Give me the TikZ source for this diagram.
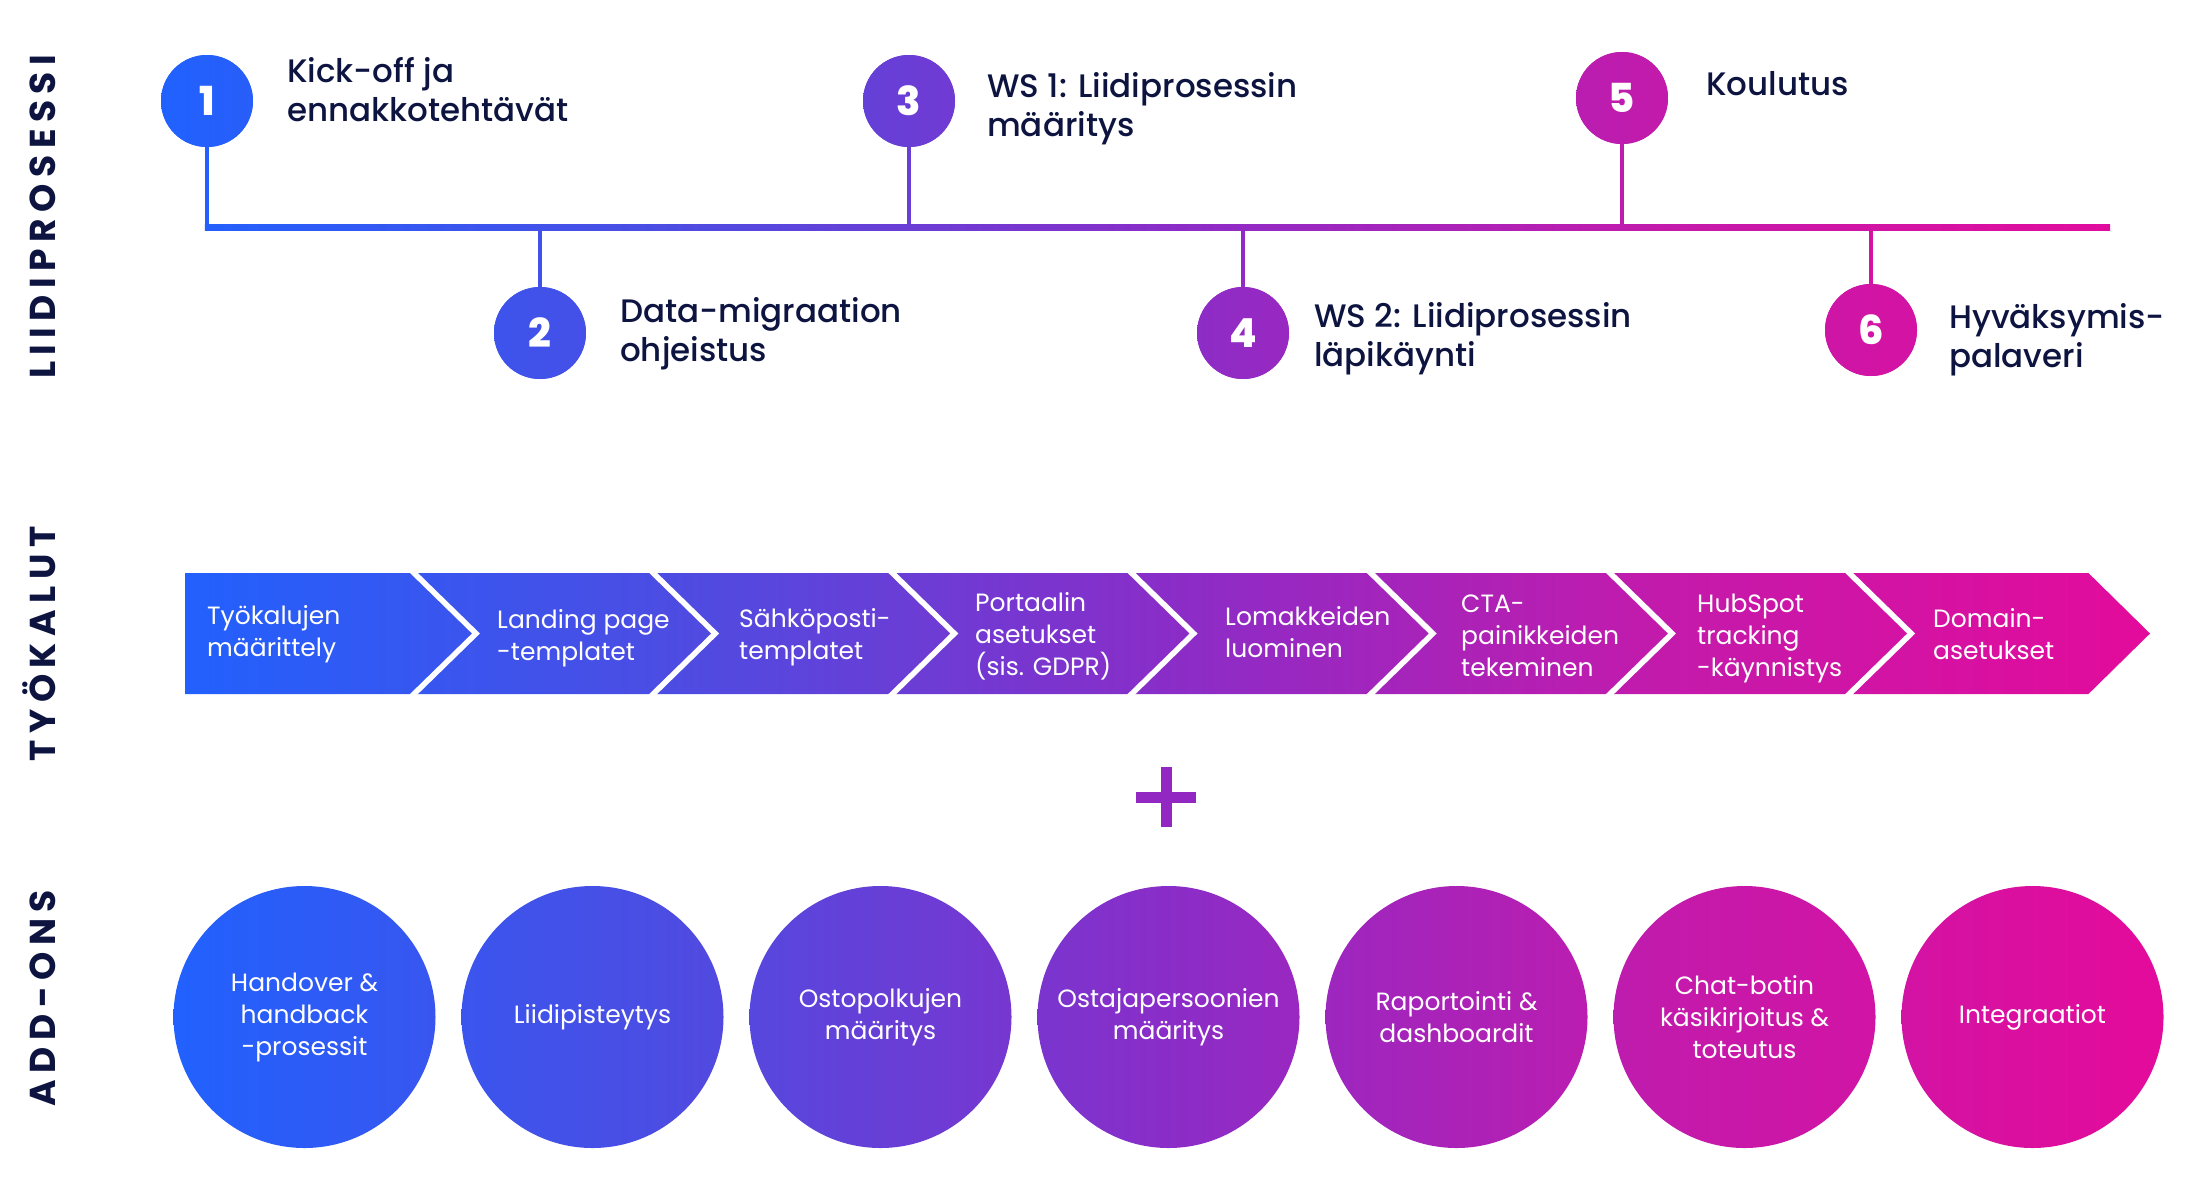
\documentclass[tikz,border=0pt]{standalone}
\usepackage{fontspec}
\setmainfont{Poppins}
\IfFontExistsTF{Poppins Medium}{\newfontfamily\tlfont{Poppins Medium}}{\newfontfamily\tlfont{Poppins}[FakeBold=0.3]}
\IfFontExistsTF{Poppins ExtraBold}{\newfontfamily\numfont{Poppins ExtraBold}}{\newfontfamily\numfont{Poppins Bold}}
\definecolor{navy}{HTML}{0D1440}
\definecolor{s0}{HTML}{1F62FF}
\definecolor{s1}{HTML}{4B4DE3}
\definecolor{s2}{HTML}{8A2DC8}
\definecolor{s3}{HTML}{C41AAB}
\definecolor{s4}{HTML}{E50A9A}
\colorlet{k1}{s1!7!s0}
\colorlet{k2}{s1!74!s0}
\colorlet{k3}{s2!48!s1}
\colorlet{k4}{s3!15!s2}
\colorlet{k5}{s3!91!s2}
\colorlet{k6}{s4!41!s3}
\definecolor{pluscol}{HTML}{9227C2}
\pgfdeclarehorizontalshading{brand}{100bp}{rgb(0bp)=(0.122,0.384,1); rgb(25bp)=(0.122,0.384,1); rgb(37.5bp)=(0.294,0.302,0.89); rgb(50bp)=(0.541,0.176,0.784); rgb(62.5bp)=(0.769,0.102,0.671); rgb(75bp)=(0.898,0.039,0.604); rgb(100bp)=(0.898,0.039,0.604)}
\makeatletter
\newcommand\myspread[2]{\def\my@k{#1}\@tfor\my@c:=#2\do{\my@c\kern\my@k}\unkern}
\makeatother
\begin{document}
\begin{tikzpicture}[x=1pt,y=-1pt,
  gradfill/.style={path picture={\shade[shading=brand] (gL) rectangle (gR);}},
  tlnum/.style={circle, inner sep=0pt, minimum size=92pt, text=white, font=\numfont\fontsize{40}{40}\selectfont, gradfill},
  tltext/.style={anchor=base west, align=left, inner sep=0pt, text=navy, font=\tlfont\fontsize{32.5}{39}\selectfont},
  chevtext/.style={anchor=base west, align=left, inner sep=0pt, text=white, font=\fontsize{25}{32}\selectfont},
  addon/.style={circle, inner sep=0pt, minimum size=262pt, align=center, text=white, font=\fontsize{25}{32}\selectfont, gradfill},
  stem/.style={line width=4.5pt},
  sepline/.style={draw=white, line width=5.5pt, line join=miter},
  sidelabel/.style={rotate=90, anchor=base, inner sep=0pt, text=navy, font=\fontsize{36}{36}\selectfont\bfseries}
]
\fill[white] (0,0) rectangle (2200,1200);
\useasboundingbox (0,0) rectangle (2200,1200);
\coordinate (gL) at (150,0);
\coordinate (gR) at (2180,1200);

% side labels
\node[sidelabel] (lab1) at (55,217) {\myspread{6.5pt}{LIIDIPROSESSI}};
\node[sidelabel] (lab2) at (55,644) {\myspread{6.5pt}{TYÖKALUT}};
\node[sidelabel] (lab3) at (55,998) {\myspread{6.5pt}{ADD-ONS}};

% timeline
\node[tlnum] (t1) at (207,101) {1};
\node[tlnum] (t2) at (540,333) {2};
\node[tlnum] (t3) at (909,101) {3};
\node[tlnum] (t4) at (1243,333) {4};
\node[tlnum] (t5) at (1622,98) {5};
\node[tlnum] (t6) at (1871,330) {6};
\coordinate (hl) at (0,227.5);
\draw[stem, draw=k1] (t1.south) -- ([yshift=-2.75pt]t1.south |- hl);
\draw[stem, draw=k2] (t2.north) -- (t2.north |- hl);
\draw[stem, draw=k3] (t3.south) -- (t3.south |- hl);
\draw[stem, draw=k4] (t4.north) -- (t4.north |- hl);
\draw[stem, draw=k5] (t5.south) -- (t5.south |- hl);
\draw[stem, draw=k6] (t6.north) -- (t6.north |- hl);
\path[gradfill] (204.75,224.75) rectangle (2110,230.25);
\node[tlnum] at (t1) {1};
\node[tlnum] at (t2) {2};
\node[tlnum] at (t3) {3};
\node[tlnum] at (t4) {4};
\node[tlnum] at (t5) {5};
\node[tlnum] at (t6) {6};

\node[tltext] (x1) at (287,121) {Kick-off ja\\ennakkotehtävät};
\node[tltext] (x3) at (987,136) {WS 1: Liidiprosessin\\määritys};
\node[tltext] (x5) at (1706,95) {Koulutus};
\node[tltext] (x2) at (620,361) {Data-migraation\\ohjeistus};
\node[tltext] (x4) at (1314,366) {WS 2: Liidiprosessin\\läpikäynti};
\node[tltext] (x6) at (1949,367) {Hyväksymis-\\palaveri};

% chevron band
\path[gradfill] (185,573) -- (2088.4,573) -- (2150,633.5) -- (2088.4,694) -- (185,694) -- cycle;
\foreach \s in {414,653.2,892.4,1131.6,1370.8,1610,1849.2}
  \draw[sepline] (\s-4.1,569) -- (\s+62,633.5) -- (\s-4.1,698);
\node[chevtext] (c1) at (207,656) {Työkalujen\\määrittely};
\node[chevtext] (c2) at (497,660) {Landing page\\-templatet};
\node[chevtext] (c3) at (739,659) {Sähköposti-\\templatet};
\node[chevtext] (c4) at (975,675) {Portaalin\\asetukset\\(sis. GDPR)};
\node[chevtext] (c5) at (1225,657) {Lomakkeiden\\luominen};
\node[chevtext] (c6) at (1461,676) {CTA-\\painikkeiden\\tekeminen};
\node[chevtext] (c7) at (1697,676) {HubSpot\\tracking\\-käynnistys};
\node[chevtext] (c8) at (1933,659) {Domain-\\asetukset};

% plus
\fill[pluscol] (1136,791.5) rectangle (1196,802.5);
\fill[pluscol] (1160.5,767) rectangle (1171.5,827);

% add-ons
\node[addon] (a1) at (304.5,1017) {Handover \&\\handback\\-prosessit};
\node[addon] (a2) at (592.5,1017) {Liidipisteytys};
\node[addon] (a3) at (880.5,1017) {Ostopolkujen\\määritys};
\node[addon] (a4) at (1168.5,1017) {Ostajapersoonien\\määritys};
\node[addon] (a5) at (1456.5,1017) {Raportointi \&\\dashboardit};
\node[addon] (a6) at (1744.5,1017) {Chat-botin\\käsikirjoitus \&\\toteutus};
\node[addon] (a7) at (2032.5,1017) {Integraatiot};
\end{tikzpicture}
\end{document}
